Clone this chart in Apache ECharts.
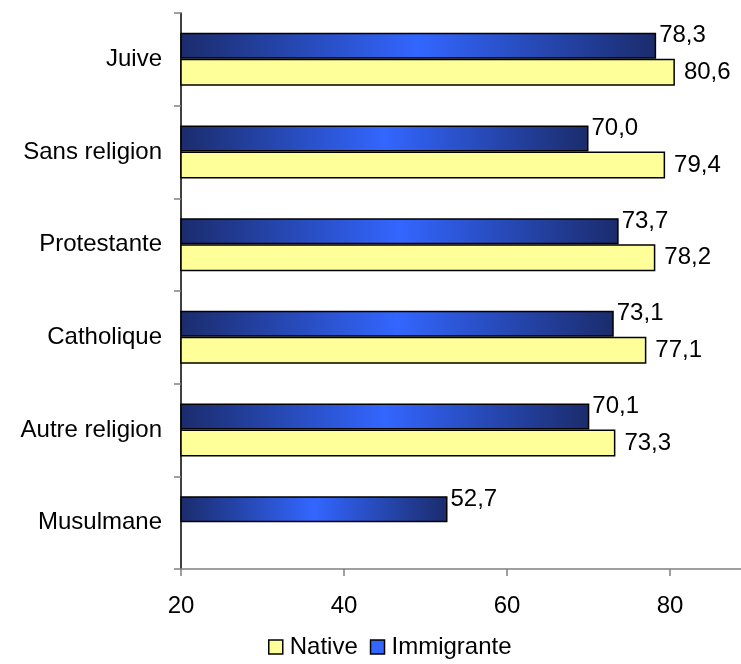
<!DOCTYPE html>
<html>
<head>
<meta charset="utf-8">
<script src="https://cdn.jsdelivr.net/npm/echarts@6/dist/echarts.min.js"></script>
<style>
  html, body { margin: 0; padding: 0; background: #fff; }
  #chart { width: 741px; height: 664px; }
</style>
</head>
<body>
<div id="chart"></div>
<script>
// Religions, listed top to bottom
const religions = ['Juive', 'Sans religion', 'Protestante', 'Catholique', 'Autre religion', 'Musulmane'];
// Values per group (no native value for Musulmane)
const immigrante = [78.3, 70.0, 73.7, 73.1, 70.1, 52.7];
const native = [80.6, 79.4, 78.2, 77.1, 73.3, null];
const xTicks = [20, 40, 60, 80];

const FONT = 'Liberation Sans';
const fmt = p => p.value == null ? '' : p.value.toFixed(1).replace('.', ',');

const blueFill = new echarts.graphic.LinearGradient(0, 0, 1, 0, [
  { offset: 0, color: '#1B2C6C' },
  { offset: 0.5, color: '#3366FF' },
  { offset: 1, color: '#1B2C6C' }
]);

const chart = echarts.init(document.getElementById('chart'));
chart.setOption({
  animation: false,
  backgroundColor: '#ffffff',
  grid: { left: 181, top: 13, width: 570.5, bottom: 95, containLabel: false, outerBoundsMode: 'none' },
  legend: {
    left: 263,
    top: 630,
    itemWidth: 14,
    itemHeight: 14,
    itemGap: 12,
    icon: 'rect',
    textStyle: { fontFamily: FONT, fontSize: 24, color: '#000', padding: [0, 0, 0, 2] },
    data: [
      { name: 'Native', itemStyle: { color: '#FFFF99', borderColor: '#000', borderWidth: 1.5 } },
      { name: 'Immigrante', itemStyle: { color: '#3366FF', borderColor: '#000', borderWidth: 1.5 } }
    ]
  },
  xAxis: {
    type: 'value',
    min: xTicks[0],
    max: 90,
    interval: 20,
    axisLine: { show: true, lineStyle: { color: '#808080', width: 1.5 } },
    axisTick: { show: true, length: 7, lineStyle: { color: '#808080', width: 1.5 } },
    splitLine: { show: false },
    axisLabel: {
      showMaxLabel: false,
      margin: 25,
      fontFamily: FONT, fontSize: 24, color: '#000',
      formatter: v => xTicks.includes(v) ? String(v) : ''
    }
  },
  yAxis: {
    type: 'category',
    data: religions,
    inverse: true,
    axisLine: { show: true, onZero: false, lineStyle: { color: '#000', width: 1.5 } },
    axisTick: { show: true, length: 7, inside: false, lineStyle: { color: '#808080', width: 1.5 } },
    axisLabel: { margin: 19, fontFamily: FONT, fontSize: 24, color: '#000' }
  },
  series: [
    {
      name: 'Immigrante',
      type: 'bar',
      data: immigrante,
      barWidth: 26,
      barGap: '0%',
      barCategoryGap: '41%',
      itemStyle: { color: blueFill, borderColor: '#000', borderWidth: 1.5 },
      label: {
        show: true, position: 'right', distance: 3, offset: [0, -10],
        fontFamily: FONT, fontSize: 24, color: '#000', formatter: fmt
      }
    },
    {
      name: 'Native',
      type: 'bar',
      data: native,
      barWidth: 27,
      barGap: '0%',
      itemStyle: { color: '#FFFF99', borderColor: '#000', borderWidth: 1.5 },
      label: {
        show: true, position: 'right', distance: 9,
        fontFamily: FONT, fontSize: 24, color: '#000', formatter: fmt
      }
    }
  ]
});
</script>
</body>
</html>
